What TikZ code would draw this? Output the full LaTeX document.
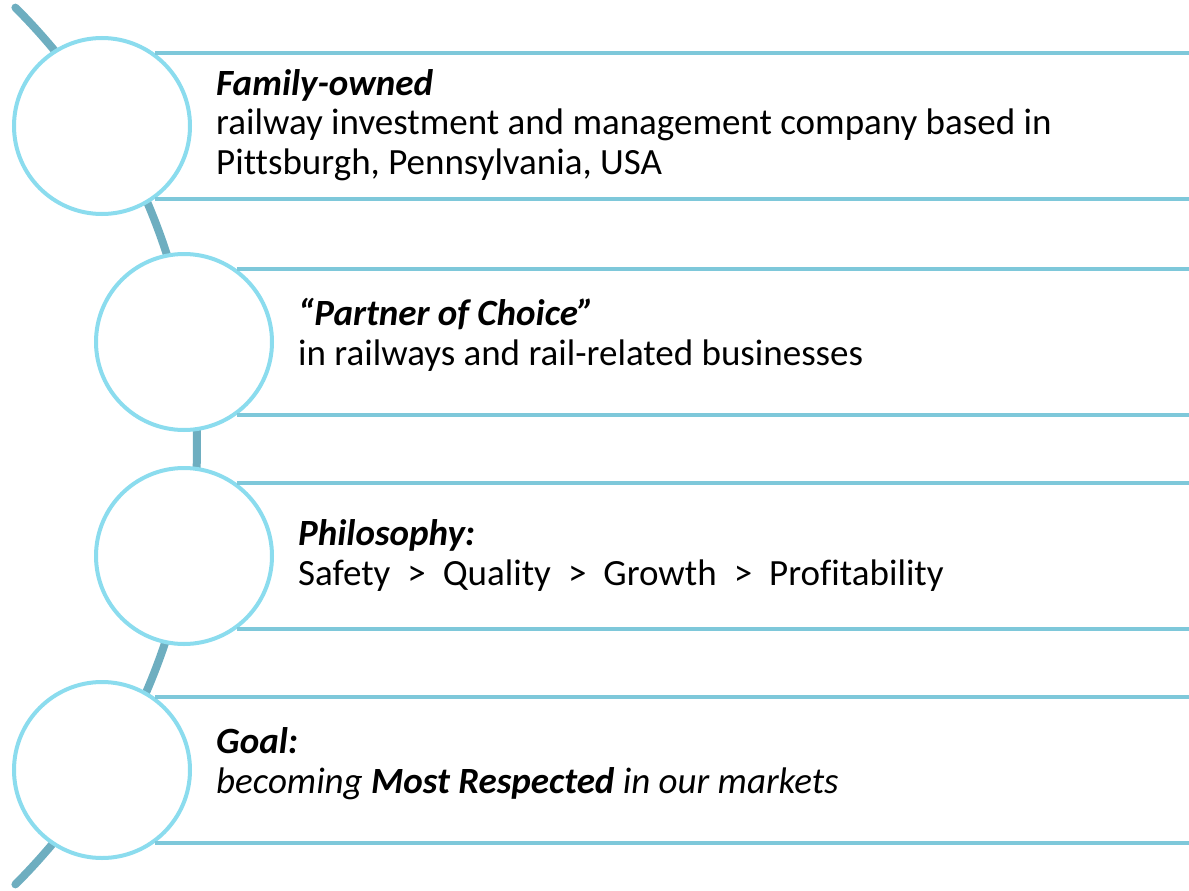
\documentclass[tikz,border=0pt]{standalone}
\usepackage{fontspec}
\setmainfont{Carlito}[Ligatures=NoCommon]
\definecolor{ringc}{RGB}{139,220,238}
\definecolor{rulec}{RGB}{126,200,218}
\definecolor{spinec}{RGB}{110,174,192}
\newcommand\gt{\hspace{17pt}>\hspace{17pt}}

\begin{document}
\begin{tikzpicture}[
	x=1pt, y=-1pt,
	ring/.style  = {circle, draw=ringc, line width=4pt, fill=white,
	                minimum size=176pt, inner sep=0pt},
	rule/.style  = {draw=rulec, line width=4pt},
	spine/.style = {draw=spinec, line width=8pt, line cap=round},
	txt/.style   = {anchor=base west, align=left, inner sep=0pt,
	                font=\fontsize{37}{39.5}\selectfont}
	]
\useasboundingbox (0,0) rectangle (1189,891);
% the curved spine behind the rings
\coordinate (hub) at (-423,446);
\draw[spine] (hub) ++(-45:620) arc[start angle=-45, end angle=45, radius=620];
%
\node (c1) [ring] at (102,126) {};
\node (c2) [ring] at (184,342) {};
\node (c3) [ring] at (184,556) {};
\node (c4) [ring] at (102,770) {};
%
\foreach \c in {c1,c2,c3,c4}{
	\draw[rule] (\c.54)  -- (\c.54  -| 1189,0);
	\draw[rule] (\c.-54) -- (\c.-54 -| 1189,0);
}
% base anchor sits on the last line
\node (t1) [txt] at (216,174) {\textbf{\textit{Family-owned}}\\
	railway investment and management company based in\\
	Pittsburgh, Pennsylvania, USA};
\node (t2) [txt] at (298,365) {\textbf{\textit{“Partner of Choice”}}\\
	in railways and rail-related businesses};
\node (t3) [txt] at (298,585) {\textbf{\textit{Philosophy:}}\\
	Safety\gt Quality\gt Growth\gt Profitability};
\node (t4) [txt] at (216,793) {\textbf{\textit{Goal:}}\\
	\textit{becoming \textbf{Most Respected} in our markets}};
\end{tikzpicture}
\end{document}
